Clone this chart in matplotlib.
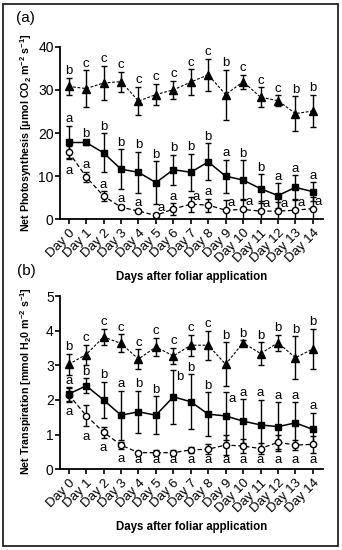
import matplotlib
matplotlib.use("Agg")
import matplotlib.pyplot as plt
from matplotlib.patches import Rectangle

plt.rcParams['font.family'] = ['Liberation Sans', 'DejaVu Sans']
plt.rcParams['mathtext.fontset'] = 'custom'
plt.rcParams['mathtext.rm'] = 'Liberation Sans:bold'
plt.rcParams['mathtext.it'] = 'Liberation Sans:bold'
plt.rcParams['mathtext.default'] = 'rm'

days = ["Day 0", "Day 1", "Day 2", "Day 3", "Day 4", "Day 5", "Day 6", "Day 7",
        "Day 8", "Day 9", "Day 10", "Day 11", "Day 12", "Day 13", "Day 14"]

# (a) net photosynthesis
photo_tri = [30.8, 30.3, 31.6, 31.9, 27.4, 28.9, 30.0, 31.8, 33.5, 28.9, 31.9, 28.3, 27.5, 24.5, 25.1]
photo_tri_err = [2.0, 4.2, 4.0, 2.3, 3.3, 2.5, 2.1, 3.0, 3.7, 5.8, 1.6, 2.3, 1.2, 4.0, 3.8]
photo_sq = [17.8, 17.8, 15.4, 11.6, 10.9, 8.5, 11.5, 10.9, 13.3, 10.0, 9.1, 7.1, 5.5, 7.4, 6.4]
photo_sq_err = [3.9, 0.5, 4.5, 4.6, 4.8, 5.0, 3.5, 4.3, 4.3, 3.8, 4.6, 3.3, 2.9, 2.8, 2.2]
photo_circ = [15.6, 9.8, 5.4, 2.8, 1.9, 0.9, 2.4, 3.5, 3.3, 2.1, 2.3, 1.9, 1.9, 2.1, 2.5]
photo_circ_err = [1.5, 1.2, 1.1, 0.4, 0.3, 0.3, 1.3, 1.7, 1.5, 2.3, 2.5, 2.3, 2.0, 2.3, 2.6]
photo_tri_sig = list("bccccccccbcccbb")
photo_sq_sig = list("abbbbbbbbabbaaa")
photo_circ_sig = list("aaaaaaaaaaaaaaa")

# (b) net transpiration
trans_tri = [3.03, 3.31, 3.82, 3.63, 3.18, 3.53, 3.27, 3.58, 3.58, 3.03, 3.65, 3.34, 3.65, 3.22, 3.47]
trans_tri_err = [0.30, 0.29, 0.23, 0.26, 0.29, 0.26, 0.24, 0.30, 0.42, 0.64, 0.08, 0.32, 0.23, 0.62, 0.58]
trans_sq = [2.17, 2.41, 2.00, 1.56, 1.66, 1.56, 2.09, 1.95, 1.59, 1.54, 1.39, 1.28, 1.23, 1.34, 1.15]
trans_sq_err = [0.20, 0.22, 0.52, 0.71, 0.60, 0.55, 0.77, 0.79, 0.63, 0.70, 0.63, 0.73, 0.70, 0.60, 0.48]
trans_circ = [2.15, 1.55, 1.07, 0.70, 0.48, 0.48, 0.48, 0.56, 0.58, 0.70, 0.67, 0.60, 0.78, 0.70, 0.72]
trans_circ_err = [0.20, 0.31, 0.16, 0.10, 0.03, 0.07, 0.07, 0.08, 0.15, 0.28, 0.20, 0.15, 0.20, 0.15, 0.25]
trans_tri_sig = list("bccccccccbbbbbb")
trans_sq_sig = list("abbabbbbbaaaaaa")
trans_circ_sig = list("aaaaaaaaaaaaaaa")

# where each letter goes relative to its point
photo_circ_pos = ['below', 'above', 'above', 'above', 'above', 'right', 'above', 'right',
                  'above', 'right', 'right', 'right', 'right', 'right', 'right']
trans_sq_pos = ['above'] * 6 + ['side'] + ['above'] * 2 + ['side'] + ['above'] * 5
trans_circ_pos = ['floor'] * 15

W, H = 342, 550
fig = plt.figure(figsize=(W / 100, H / 100), dpi=100)
fig.patches.append(Rectangle((3 / W, 4 / H), 335 / W, 542 / H, transform=fig.transFigure,
                             fill=False, lw=1.3, ec='#222222'))

ax_a = fig.add_axes([60 / W, 1 - 219.3 / H, 263.3 / W, 172.6 / H])
ax_b = fig.add_axes([60 / W, 1 - 469.3 / H, 263.3 / W, 173.3 / H])


def draw(ax, vals, errs, marker, ls, mfc, ms, lw):
    ax.errorbar(range(len(vals)), vals, yerr=errs, fmt=marker, ls=ls, color='black',
                mfc=mfc, mec='black', ms=ms, lw=lw, elinewidth=1.0, capsize=2.4,
                capthick=1.0, mew=1.0)


def letters(ax, vals, errs, sig, pos=None):
    if pos is None:
        pos = ['above'] * len(vals)
    for i, (v, e, s, p) in enumerate(zip(vals, errs, sig, pos)):
        kw = dict(textcoords='offset points', fontsize=9.5)
        if p == 'above':
            ax.annotate(s, (i, v + e), xytext=(0, 2.5), ha='center', va='baseline', **kw)
        elif p == 'below':
            ax.annotate(s, (i, v - e), xytext=(0, -4.5), ha='center', va='top', **kw)
        elif p == 'right':
            ax.annotate(s, (i, v), xytext=(1.5, 5), ha='left', va='center', **kw)
        elif p == 'side':
            ax.annotate(s, (i, v + e), xytext=(2, -5), ha='left', va='center', **kw)
        elif p == 'floor':
            ax.text(i, max(v - e - 0.3, 0.27), s, ha='center', va='center', fontsize=9.5)


def style(ax, ymax, step):
    ax.set_xlim(-0.5, 14.6)
    ax.set_ylim(0, ymax)
    ax.set_yticks(range(0, ymax + 1, step))
    ax.set_xticks(range(len(days)))
    ax.set_xticklabels(days, rotation=45, ha='right', rotation_mode='anchor', fontsize=9.5)
    for s in ['top', 'right']:
        ax.spines[s].set_visible(False)
    for s in ['left', 'bottom']:
        ax.spines[s].set_linewidth(1.3)
    ax.tick_params(axis='both', direction='out', length=3.5, width=1.2)
    ax.tick_params(axis='y', labelsize=10, pad=1)
    ax.tick_params(axis='x', pad=2)
    ax.set_xlabel("Days after foliar application", fontsize=8.3, fontweight='bold')
    ax.xaxis.set_label_coords(0.5, -0.3)


# panel a
draw(ax_a, photo_tri, photo_tri_err, '^', (0, (2.5, 1.5)), 'black', 5.5, 0.8)
draw(ax_a, photo_circ, photo_circ_err, 'o', (0, (3.5, 2)), 'white', 4.5, 0.9)
draw(ax_a, photo_sq, photo_sq_err, 's', '-', 'black', 4.5, 1.1)
letters(ax_a, photo_tri, photo_tri_err, photo_tri_sig)
letters(ax_a, photo_sq, photo_sq_err, photo_sq_sig)
letters(ax_a, photo_circ, photo_circ_err, photo_circ_sig, photo_circ_pos)
style(ax_a, 40, 10)
ax_a.set_ylabel("Net Photosynthesis [μmol CO$_2$ m$^{-2}$ s$^{-1}$]", fontsize=7.7,
                fontweight='bold')
ax_a.yaxis.set_label_coords(-0.10, 0.5)

# panel b
draw(ax_b, trans_tri, trans_tri_err, '^', (0, (2.5, 1.5)), 'black', 5.5, 0.8)
draw(ax_b, trans_circ, trans_circ_err, 'o', (0, (3.5, 2)), 'white', 4.5, 0.9)
draw(ax_b, trans_sq, trans_sq_err, 's', '-', 'black', 4.5, 1.1)
letters(ax_b, trans_tri, trans_tri_err, trans_tri_sig)
letters(ax_b, trans_sq, trans_sq_err, trans_sq_sig, trans_sq_pos)
letters(ax_b, trans_circ, trans_circ_err, trans_circ_sig, trans_circ_pos)
style(ax_b, 5, 1)
ax_b.set_ylabel("Net Transpiration [mmol H$_2$0 m$^{-2}$ s$^{-1}$]", fontsize=7.7,
                fontweight='bold')
ax_b.yaxis.set_label_coords(-0.10, 0.51)

fig.text(16 / W, 1 - 18 / H, "(a)", fontsize=11, va='center', ha='left')
fig.text(17 / W, 1 - 271 / H, "(b)", fontsize=11, va='center', ha='left')

fig.savefig("out.png", dpi=100)
